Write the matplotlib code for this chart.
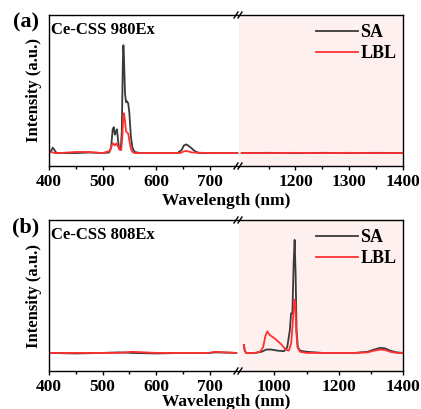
import matplotlib
matplotlib.use("Agg")
import matplotlib.pyplot as plt
from matplotlib.ticker import FixedLocator

plt.rcParams['font.family'] = ['Liberation Serif', 'DejaVu Serif']
plt.rcParams['font.weight'] = 'bold'

# ---------------- data: panel (a) 980 nm excitation ----------------
a_sa_wl = [400, 404, 407, 410, 414, 420, 450, 475, 500, 512, 516, 519, 521, 523, 525, 527,
           529, 531, 534, 536, 538, 539, 540, 542, 544, 546, 548, 550, 553, 556, 560, 570,
           600, 640, 648, 652, 656, 660, 665, 672, 680, 700, 752]
a_sa = [0.0, 0.02, 0.05, 0.03, 0.0, 0.0, 0.0, 0.005, 0.0, 0.005, 0.05, 0.22, 0.24, 0.17, 0.20, 0.22,
        0.12, 0.04, 0.03, 0.2, 0.85, 1.0, 0.9, 0.55, 0.47, 0.48, 0.46, 0.38, 0.15, 0.05, 0.01, 0.0,
        0.0, 0.0, 0.03, 0.07, 0.08, 0.07, 0.05, 0.02, 0.0, 0.0, 0.0]
a_lbl_wl = [400, 405, 410, 420, 450, 475, 500, 514, 518, 520, 523, 526, 529, 532, 535, 537,
            539, 540, 542, 544, 546, 548, 550, 553, 556, 560, 600, 645, 652, 656, 660, 668, 700, 752]
a_lbl = [0.0, 0.01, 0.0, 0.0, 0.01, 0.01, 0.0, 0.02, 0.08, 0.09, 0.07, 0.09, 0.06, 0.03, 0.03, 0.15,
         0.35, 0.37, 0.3, 0.2, 0.19, 0.18, 0.12, 0.04, 0.01, 0.0, 0.0, 0.0, 0.015, 0.02, 0.015, 0.005, 0.0, 0.0]
a_nir_wl = [1100, 1150, 1200, 1250, 1300, 1350, 1400]
a_nir_sa = [0.0, 0.002, 0.0, 0.002, 0.0, 0.002, 0.0]
a_nir_lbl = [0.0, 0.0, 0.002, 0.0, 0.002, 0.0, 0.0]

# ---------------- data: panel (b) 808 nm excitation ----------------
b_vis_wl = [400, 450, 500, 530, 555, 600, 650, 700, 710, 750]
b_vis_sa = [0.0, -0.005, 0.0, 0.005, 0.0, -0.005, 0.0, 0.0, 0.005, 0.0]
b_vis_lbl = [0.0, 0.0, 0.0, 0.0, 0.01, 0.0, 0.0, 0.0, 0.01, 0.0]
b_sa_wl = [905, 908, 912, 940, 960, 975, 990, 1010, 1030, 1040, 1048, 1052, 1056, 1060, 1063,
           1066, 1069, 1073, 1080, 1100, 1150, 1250, 1290, 1310, 1330, 1345, 1360, 1380, 1400]
b_sa = [0.07, 0.02, 0.0, 0.0, 0.01, 0.03, 0.03, 0.02, 0.015, 0.05, 0.2, 0.35, 0.35, 0.8, 1.0,
        0.7, 0.2, 0.05, 0.02, 0.01, 0.0, 0.0, 0.01, 0.03, 0.045, 0.04, 0.02, 0.005, 0.0]
b_lbl_wl = [905, 908, 912, 940, 955, 965, 972, 978, 985, 1000, 1020, 1035, 1045, 1052, 1058,
            1062, 1065, 1068, 1072, 1080, 1100, 1250, 1290, 1310, 1330, 1345, 1360, 1380, 1400]
b_lbl = [0.07, 0.02, 0.0, 0.0, 0.01, 0.05, 0.15, 0.19, 0.16, 0.13, 0.08, 0.03, 0.02, 0.08, 0.3,
         0.47, 0.45, 0.2, 0.05, 0.01, 0.0, 0.0, 0.005, 0.02, 0.03, 0.025, 0.01, 0.0, 0.0]

SA_COLOR = '#3a3a3a'
LBL_COLOR = '#ff3030'
PINK = '#fff0f0'

W, H = 421, 409
fig = plt.figure(figsize=(W / 100, H / 100), dpi=100)


def px_rect(x0, y0, x1, y1):
    return [x0 / W, 1 - y1 / H, (x1 - x0) / W, (y1 - y0) / H]


def style(ax, side):
    for s in ax.spines.values():
        s.set_linewidth(1.0)
    ax.set_yticks([])
    ax.tick_params(axis='x', which='major', direction='out', length=3, width=1.0,
                   labelsize=12.5, pad=2.5)
    ax.tick_params(axis='x', which='minor', direction='out', length=2, width=1.0)
    if side == 'left':
        ax.spines['right'].set_visible(False)
    else:
        ax.spines['left'].set_visible(False)
    for lab in ax.get_xticklabels():
        lab.set_fontweight('bold')


def break_marks(xpix, ytop, ybot):
    for y in (ytop, ybot):
        for dx in (-3, 1):
            x0 = (xpix + dx - 2) / W
            x1 = (xpix + dx + 2) / W
            y0 = 1 - (y + 3) / H
            y1 = 1 - (y - 3) / H
            fig.add_artist(plt.Line2D([x0, x1], [y0, y1], color='black', lw=1.0,
                                      transform=fig.transFigure, clip_on=False))


def panel(top, bot, xl_right, right_major, right_minor, vis, nir, ylim, label, title, xlab_y):
    axl = fig.add_axes(px_rect(49, top, 239, bot))
    axr = fig.add_axes(px_rect(239, top, 403, bot))
    axr.set_facecolor(PINK)
    (vw_sa, vs_sa, vw_l, vs_l) = vis
    (nw_sa, ns_sa, nw_l, ns_l) = nir
    axl.plot(vw_sa, vs_sa, color=SA_COLOR, lw=1.3)
    axl.plot(vw_l, vs_l, color=LBL_COLOR, lw=1.3)
    h1, = axr.plot(nw_sa, ns_sa, color=SA_COLOR, lw=1.3, label='SA')
    h2, = axr.plot(nw_l, ns_l, color=LBL_COLOR, lw=1.3, label='LBL')
    axl.set_xlim(400, 755)
    axr.set_xlim(xl_right, 1400)
    axl.set_ylim(*ylim)
    axr.set_ylim(*ylim)
    axl.xaxis.set_major_locator(FixedLocator([400, 500, 600, 700]))
    axl.xaxis.set_minor_locator(FixedLocator([450, 550, 650]))
    axr.xaxis.set_major_locator(FixedLocator(right_major))
    axr.xaxis.set_minor_locator(FixedLocator(right_minor))
    style(axl, 'left')
    style(axr, 'right')
    axr.legend(handles=[h1, h2], loc='upper right', frameon=False,
               prop={'family': 'Liberation Serif', 'weight': 'bold', 'size': 13},
               handlelength=2.3, handletextpad=0.15, labelspacing=0.2,
               borderaxespad=0.2, bbox_to_anchor=(1.025, 1.01))
    axl.text(0.012, 0.955, title, transform=axl.transAxes, ha='left', va='top',
             fontsize=12, fontweight='bold')
    axl.set_ylabel('Intensity (a.u.)', fontsize=12, fontweight='bold', labelpad=5)
    fig.text(26 / W, 1 - (top + 7) / H, label, ha='center', va='center',
             fontsize=16, fontweight='bold')
    fig.text(226 / W, 1 - xlab_y / H, 'Wavelength (nm)', ha='center', va='center',
             fontsize=12.5, fontweight='bold')
    break_marks(239, top, bot)
    return axl, axr


panel(15, 166, 1095, [1200, 1300, 1400], [1150, 1250, 1350],
      (a_sa_wl, a_sa, a_lbl_wl, a_lbl), (a_nir_wl, a_nir_sa, a_nir_wl, a_nir_lbl),
      (-0.12, 1.28), '(a)', 'Ce-CSS 980Ex', 201)
panel(220, 371, 890, [1000, 1200, 1400], [1100, 1300],
      (b_vis_wl, b_vis_sa, b_vis_wl, b_vis_lbl), (b_sa_wl, b_sa, b_lbl_wl, b_lbl),
      (-0.16, 1.176), '(b)', 'Ce-CSS 808Ex', 402.5)

fig.savefig('out.png', dpi=100)
